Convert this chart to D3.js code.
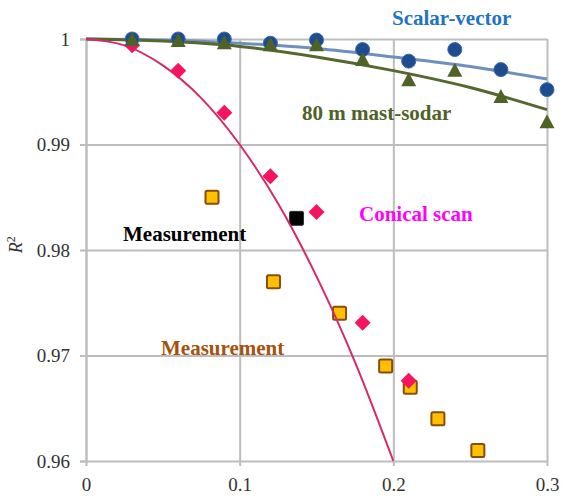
<!DOCTYPE html>
<html>
<head>
<meta charset="utf-8">
<script src="https://cdn.jsdelivr.net/npm/d3@7"></script>
<style>
  body { margin: 0; background: #fff; }
  svg { display: block; }
  svg text { font-family: "Liberation Serif", "Times New Roman", serif; }
  .lbl { font-size: 21px; font-weight: bold; }
  .tk { font-size: 19px; fill: #333; }
</style>
</head>
<body>
<div id="chart"></div>
<script>
// values
var xTicks = [0, 0.1, 0.2, 0.3];
var yTicks = [0.96, 0.97, 0.98, 0.99, 1];

var stepX = [0.03, 0.06, 0.09, 0.12, 0.15, 0.18, 0.21, 0.24, 0.27, 0.30];
var scalarY = [1.0, 1.0, 1.0, 0.9996, 0.9999, 0.999, 0.9979, 0.999, 0.9971, 0.9952];
var mastY = [0.9999, 0.9998, 0.9996, 0.9994, 0.9994, 0.998, 0.9961, 0.997, 0.9945, 0.9921];

var conicalX = [0.03, 0.06, 0.09, 0.12, 0.15, 0.18, 0.21];
var conicalY = [0.9994, 0.997, 0.993, 0.987, 0.9836, 0.9731, 0.9676];

var measBlackX = [0.137];
var measBlackY = [0.983];

var measX = [0.082, 0.122, 0.165, 0.195, 0.211, 0.229, 0.255];
var measY = [0.985, 0.977, 0.974, 0.969, 0.967, 0.964, 0.961];

// fitted curves
var fitX = [0, 0.05, 0.1, 0.15, 0.2, 0.25, 0.3];
var scalarFitY = [1, 0.9999, 0.9996, 0.9991, 0.9983, 0.9974, 0.9962];
var mastFitY = [1, 0.9998, 0.9993, 0.9983, 0.997, 0.9954, 0.9933];
var conicalFitX = [0, 0.025, 0.05, 0.075, 0.1, 0.125, 0.15, 0.175, 0.2];
var conicalFitY = [1, 0.9994, 0.9975, 0.9944, 0.99, 0.9844, 0.9775, 0.9694, 0.96];

var margin = { top: 39, right: 16, bottom: 41, left: 86 };
var width = 563 - margin.left - margin.right;
var height = 502 - margin.top - margin.bottom;

var x = d3.scaleLinear().domain([0, 0.3]).range([0, width]);
var y = d3.scaleLinear().domain([0.96, 1]).range([height, 0]);

var svg = d3.select("#chart").append("svg")
    .attr("width", 563)
    .attr("height", 502)
  .append("g")
    .attr("transform", "translate(" + margin.left + "," + margin.top + ")");

var gridColor = "#bdbdbd";

// grid lines
svg.append("g")
    .call(d3.axisLeft(y).tickValues(yTicks).tickSize(-width).tickFormat(""))
    .call(function(g) { g.select(".domain").remove(); })
    .selectAll("line").attr("stroke", gridColor).attr("stroke-width", 2);

svg.append("g")
    .call(d3.axisBottom(x).tickValues(xTicks).tickSize(height).tickFormat(""))
    .call(function(g) { g.select(".domain").remove(); })
    .selectAll("line").attr("stroke", gridColor).attr("stroke-width", 2);

// axes
var yAxis = svg.append("g")
    .call(d3.axisLeft(y).tickValues(yTicks).tickSize(6).tickPadding(10)
      .tickFormat(function(d) { return d === 1 ? "1" : d3.format(".2f")(d); }));
yAxis.attr("font-family", null);
yAxis.selectAll("line").attr("stroke", gridColor).attr("stroke-width", 2);
yAxis.select(".domain").attr("stroke", gridColor).attr("stroke-width", 2);
yAxis.selectAll("text").attr("class", "tk").attr("fill", null);

var xAxis = svg.append("g")
    .attr("transform", "translate(0," + height + ")")
    .call(d3.axisBottom(x).tickValues(xTicks).tickSize(5).tickPadding(12)
      .tickFormat(function(d) { return d === 0 ? "0" : d3.format(".1f")(d); }));
xAxis.attr("font-family", null);
xAxis.selectAll("line").attr("stroke", gridColor).attr("stroke-width", 2);
xAxis.select(".domain").remove();
xAxis.selectAll("text").attr("class", "tk").attr("fill", null);

// y label
svg.append("text")
    .attr("transform", "translate(-64," + (y(0.9805)) + ") rotate(-90)")
    .attr("text-anchor", "middle")
    .attr("font-size", 18)
    .attr("font-style", "italic")
    .attr("fill", "#333")
    .html("R<tspan dy='-7' font-size='12px' font-style='normal'>2</tspan>");

function zip(xs, ys) { return xs.map(function(v, i) { return [v, ys[i]]; }); }

var line = d3.line()
    .x(function(d) { return x(d[0]); })
    .y(function(d) { return y(d[1]); })
    .curve(d3.curveMonotoneX);

// orange measurement squares
svg.selectAll(".meas")
    .data(zip(measX, measY))
    .enter().append("rect")
    .attr("x", function(d) { return x(d[0]) - 6.5; })
    .attr("y", function(d) { return y(d[1]) - 6.5; })
    .attr("width", 13).attr("height", 13)
    .attr("rx", 1.5)
    .attr("fill", "#ffc000")
    .attr("stroke", "#8a4b0c")
    .attr("stroke-width", 2);

// black measurement square
svg.selectAll(".measb")
    .data(zip(measBlackX, measBlackY))
    .enter().append("rect")
    .attr("x", function(d) { return x(d[0]) - 7; })
    .attr("y", function(d) { return y(d[1]) - 7; })
    .attr("width", 14).attr("height", 14)
    .attr("rx", 1.5)
    .attr("fill", "#000")
    .attr("stroke", "#333");

// fitted lines
svg.append("path").datum(zip(fitX, scalarFitY)).attr("d", line)
    .attr("fill", "none").attr("stroke", "#6f8fbd").attr("stroke-width", 3);
svg.append("path").datum(zip(fitX, mastFitY)).attr("d", line)
    .attr("fill", "none").attr("stroke", "#56672f").attr("stroke-width", 3);
svg.append("path").datum(zip(conicalFitX, conicalFitY)).attr("d", line)
    .attr("fill", "none").attr("stroke", "#d42a6c").attr("stroke-width", 2);

// conical scan diamonds
svg.selectAll(".con")
    .data(zip(conicalX, conicalY))
    .enter().append("path")
    .attr("transform", function(d) { return "translate(" + x(d[0]) + "," + y(d[1]) + ")"; })
    .attr("d", "M0,-8L8,0L0,8L-8,0Z")
    .attr("fill", "#f7145f");

// scalar-vector circles
svg.selectAll(".sv")
    .data(zip(stepX, scalarY))
    .enter().append("circle")
    .attr("cx", function(d) { return x(d[0]); })
    .attr("cy", function(d) { return y(d[1]); })
    .attr("r", 7)
    .attr("fill", "#1d4d8e")
    .attr("stroke", "#3a6bb0")
    .attr("stroke-width", 1);

// mast-sodar triangles
svg.selectAll(".ms")
    .data(zip(stepX, mastY))
    .enter().append("path")
    .attr("transform", function(d) { return "translate(" + x(d[0]) + "," + y(d[1]) + ")"; })
    .attr("d", "M0,-8L7.5,6L-7.5,6Z")
    .attr("fill", "#4f6228");

// labels
function label(txt, px, py, color) {
  svg.append("text")
      .attr("class", "lbl")
      .attr("x", px - margin.left)
      .attr("y", py - margin.top)
      .attr("fill", color)
      .text(txt);
}
label("Scalar-vector", 392, 25, "#1f73c4");
label("80 m mast-sodar", 302, 120, "#4f6228");
label("Conical scan", 359, 221, "#ff00ff");
label("Measurement", 123, 241, "#000");
label("Measurement", 161, 355, "#a5520f");
</script>
</body>
</html>
